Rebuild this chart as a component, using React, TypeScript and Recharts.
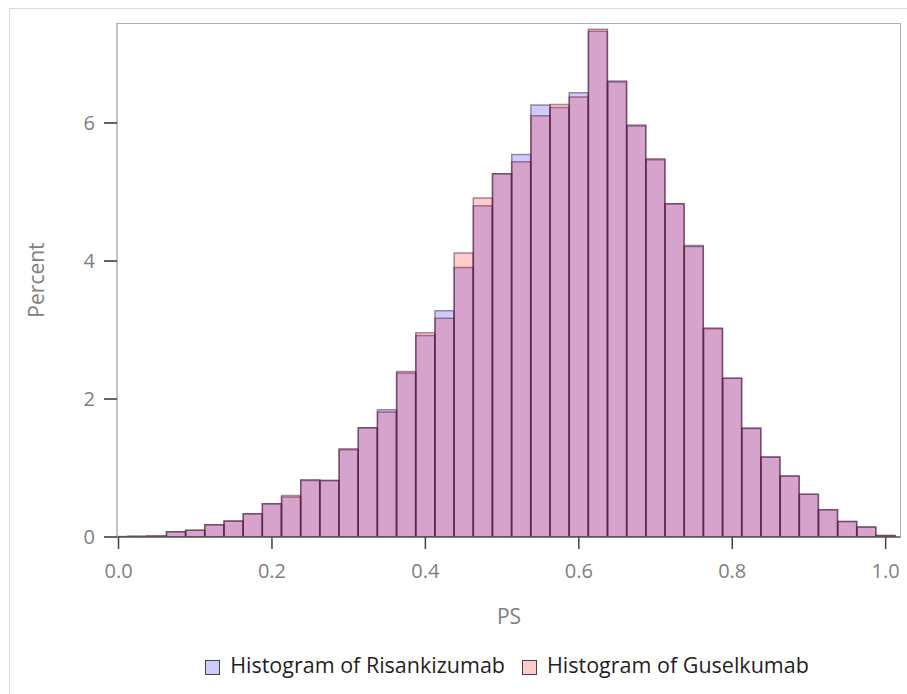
import React from "react";
import { BarChart, Bar, XAxis, YAxis } from "recharts";

// bin centres (PS), bin width 0.025
const psBins = [
  0, 0.025, 0.05, 0.075, 0.1, 0.125, 0.15, 0.175, 0.2, 0.225, 0.25, 0.275,
  0.3, 0.325, 0.35, 0.375, 0.4, 0.425, 0.45, 0.475, 0.5, 0.525, 0.55, 0.575,
  0.6, 0.625, 0.65, 0.675, 0.7, 0.725, 0.75, 0.775, 0.8, 0.825, 0.85, 0.875,
  0.9, 0.925, 0.95, 0.975, 1.0,
];

// percent of patients per bin
const risankizumab = [
  0.005, 0.01, 0.015, 0.077, 0.097, 0.178, 0.232, 0.338, 0.483, 0.58, 0.83,
  0.82, 1.265, 1.584, 1.845, 2.377, 2.92, 3.28, 3.907, 4.8, 5.265, 5.545, 6.26,
  6.226, 6.44, 7.33, 6.61, 5.97, 5.468, 4.83, 4.226, 3.02, 2.3, 1.58, 1.16,
  0.884, 0.618, 0.396, 0.226, 0.145, 0.023,
];

const guselkumab = [
  0.005, 0.01, 0.015, 0.077, 0.097, 0.178, 0.232, 0.338, 0.483, 0.6, 0.82,
  0.82, 1.28, 1.584, 1.81, 2.4, 2.96, 3.17, 4.116, 4.913, 5.265, 5.44, 6.106,
  6.27, 6.377, 7.36, 6.594, 5.956, 5.483, 4.83, 4.21, 3.03, 2.3, 1.574, 1.16,
  0.884, 0.618, 0.396, 0.226, 0.145, 0.023,
];

const xTicks = [0, 0.2, 0.4, 0.6, 0.8, 1.0];
const yTicks = [0, 2, 4, 6];

const X_MIN = -0.002;
const X_MAX = 1.02;
const Y_MAX = 7.435;

const FONT = "'Open Sans', 'Noto Sans', sans-serif";
const FRAME = "#aab1b8";

const data = psBins.map((ps, i) => ({
  ps,
  risankizumab: risankizumab[i],
  guselkumab: guselkumab[i],
}));

const legendItems = [
  { name: "Histogram of Risankizumab", color: "#ccccff" },
  { name: "Histogram of Guselkumab", color: "#ffcccc" },
];

function LegendBox() {
  return (
    <div
      style={{
        position: "absolute",
        left: 0,
        top: 650,
        width: 1014,
        display: "flex",
        justifyContent: "center",
        alignItems: "center",
        gap: 17,
        fontFamily: FONT,
        fontSize: 21.5,
        color: "#1f1f1f",
        whiteSpace: "nowrap",
      }}
    >
      {legendItems.map((item) => (
        <div key={item.name} style={{ display: "flex", alignItems: "center" }}>
          <span
            style={{
              display: "inline-block",
              width: 13,
              height: 13,
              marginTop: 5,
              marginRight: 10,
              background: item.color,
              border: "1px solid #444",
            }}
          />
          <span>{item.name}</span>
        </div>
      ))}
    </div>
  );
}

export default function App() {
  return (
    <div
      style={{
        position: "absolute",
        left: 0,
        top: 0,
        width: 907,
        height: 694,
        background: "#fff",
        overflow: "hidden",
      }}
    >
      <div
        style={{
          position: "absolute",
          left: 9,
          top: 8,
          width: 920,
          height: 720,
          borderLeft: "1px solid #d9d9d9",
          borderTop: "1px solid #d9d9d9",
        }}
      />
      <BarChart
        width={907}
        height={694}
        data={data}
        margin={{ top: 24, right: 6, bottom: 117, left: 57 }}
        barCategoryGap={0}
        barGap={0}
        style={{ position: "absolute", left: 0, top: 0 }}
      >
        <XAxis
          xAxisId="a"
          dataKey="ps"
          type="number"
          domain={[X_MIN, X_MAX]}
          ticks={xTicks}
          allowDataOverflow
          height={40}
          tickFormatter={(v: number) => v.toFixed(1)}
          tickSize={12}
          tickMargin={15}
          tick={{ fontSize: 20, fill: "#808080", fontFamily: FONT }}
          tickLine={{ stroke: "#444", strokeWidth: 1.5 }}
          axisLine={{ stroke: "#555", strokeWidth: 1.5 }}
        />
        <XAxis
          xAxisId="b"
          dataKey="ps"
          type="number"
          domain={[X_MIN, X_MAX]}
          allowDataOverflow
          hide
        />
        <YAxis
          domain={[0, Y_MAX]}
          ticks={yTicks}
          allowDataOverflow
          width={60}
          tickSize={13}
          tickMargin={9}
          tick={{ fontSize: 20, fill: "#808080", fontFamily: FONT }}
          tickLine={{ stroke: "#666", strokeWidth: 2 }}
          axisLine={{ stroke: FRAME, strokeWidth: 1.5 }}
        />
        <Bar
          xAxisId="a"
          dataKey="risankizumab"
          name="Histogram of Risankizumab"
          fill="rgba(0,0,255,0.2)"
          stroke="#4b1f45"
          strokeOpacity={0.5}
          strokeWidth={1.5}
          isAnimationActive={false}
        />
        <Bar
          xAxisId="b"
          dataKey="guselkumab"
          name="Histogram of Guselkumab"
          fill="rgba(255,0,0,0.2)"
          stroke="#4b1f45"
          strokeOpacity={0.5}
          strokeWidth={1.5}
          isAnimationActive={false}
        />
      </BarChart>
      {/* top and right edges of the plot frame */}
      <div
        style={{
          position: "absolute",
          left: 116,
          top: 23,
          width: 784,
          height: 513,
          borderTop: `1.5px solid ${FRAME}`,
          borderRight: `1.5px solid ${FRAME}`,
          pointerEvents: "none",
        }}
      />
      <div
        style={{
          position: "absolute",
          left: 459,
          width: 100,
          top: 602,
          textAlign: "center",
          fontFamily: FONT,
          fontSize: 21,
          color: "#808080",
        }}
      >
        PS
      </div>
      <div
        style={{
          position: "absolute",
          left: -14,
          width: 100,
          top: 266,
          textAlign: "center",
          fontFamily: FONT,
          fontSize: 21,
          color: "#808080",
          transform: "rotate(-90deg)",
        }}
      >
        Percent
      </div>
      <LegendBox />
    </div>
  );
}
